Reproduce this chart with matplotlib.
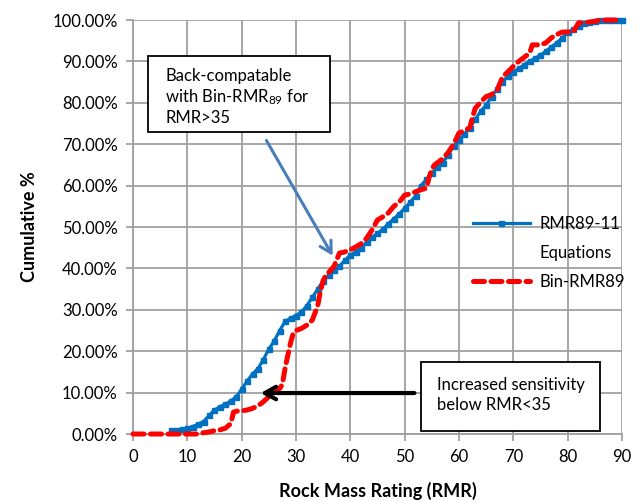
import matplotlib
matplotlib.use("Agg")
import matplotlib.pyplot as plt
from matplotlib.patches import Rectangle
from matplotlib.lines import Line2D
from matplotlib.ticker import FuncFormatter

plt.rcParams['font.family'] = ['Lato', 'DejaVu Sans']
plt.rcParams['mathtext.fontset'] = 'custom'
plt.rcParams['mathtext.rm'] = 'Lato'
plt.rcParams['mathtext.it'] = 'Lato'

# ---- data ----
blue_x = [7, 8, 9, 10, 11, 12, 13, 14, 15, 16, 17, 18, 19, 20, 21, 22, 23, 24, 25,
          26, 27, 28, 29, 30, 31, 32, 33, 34, 35, 36, 37, 38, 39, 40, 41, 42, 43, 44,
          45, 46, 47, 48, 49, 50, 51, 52, 53, 54, 55, 56, 57, 58, 59, 60, 61, 62, 63,
          64, 65, 66, 67, 68, 69, 70, 71, 72, 73, 74, 75, 76, 77, 78, 79, 80, 81, 82,
          83, 84, 85, 86, 87, 88, 89, 90]
blue_y = [1.0, 1.0, 1.2, 1.4, 1.8, 2.4, 3.0, 4.5, 5.8, 6.6, 7.2, 8.0, 9.0, 10.8, 12.8,
          14.5, 15.8, 18.0, 20.5, 22.5, 25.0, 27.2, 28.0, 28.6, 29.5, 31.0, 33.0, 35.0,
          37.0, 38.3, 39.5, 40.5, 42.0, 43.2, 44.0, 45.0, 46.3, 47.5, 48.5, 49.5, 50.8,
          52.0, 53.2, 54.5, 56.0, 57.5, 60.0, 61.5, 63.0, 64.5, 65.5, 67.5, 69.5, 71.0,
          72.5, 74.0, 76.0, 78.0, 79.5, 81.5, 83.3, 85.0, 86.5, 87.5, 88.3, 89.2, 90.0,
          90.8, 91.5, 92.5, 93.5, 94.5, 95.7, 97.0, 97.8, 98.5, 99.2, 99.6, 99.8, 100.0,
          100.0, 100.0, 100.0, 100.0]

red_x = [0, 1, 2, 3, 4, 5, 6, 7, 8, 9, 10, 11, 12, 13, 14, 15, 16, 17, 18, 18.5, 19,
         20, 21, 22, 23, 24, 25, 26, 27, 27.5, 28, 28.5, 29, 29.5, 30, 31, 32, 33, 34,
         34.5, 35, 35.5, 36, 37, 38, 39, 40, 41, 42, 43, 44, 45, 46, 47, 48, 49, 50,
         51, 52, 53, 54, 54.5, 55, 55.5, 56, 57, 58, 59, 60, 61, 62, 62.5, 63, 64, 65,
         66, 67, 68, 69, 70, 71, 72, 73, 73.5, 74, 75, 76, 77, 78, 79, 80, 81, 82, 83,
         84, 85, 86, 87, 88, 89, 90]
red_y = [0, 0, 0, 0, 0, 0, 0, 0, 0, 0, 0, 0, 0, 0.3, 0.5, 0.8, 1.0, 1.4, 2.5, 5.3, 5.5,
         5.6, 5.8, 6.2, 6.8, 7.8, 9.0, 10.3, 11.0, 12.0, 16.0, 19.0, 22.0, 24.4, 25.0,
         25.5, 26.3, 27.5, 31.0, 34.5, 37.0, 38.4, 39.0, 40.5, 43.7, 44.0, 44.5, 45.2,
         46.0, 47.3, 49.3, 51.7, 52.5, 53.4, 55.0, 56.0, 57.7, 58.0, 58.5, 59.0, 59.4,
         62.0, 64.0, 65.0, 65.5, 66.5, 68.0, 70.0, 72.7, 73.3, 74.0, 76.6, 78.7, 80.2,
         81.5, 82.0, 83.0, 86.2, 87.5, 88.8, 90.0, 91.0, 92.0, 94.0, 94.0, 94.0, 94.5,
         95.7, 96.5, 97.1, 97.1, 97.1, 99.3, 99.4, 99.5, 99.7, 100, 100, 100, 100, 100]

blue_label = ["RMR89-11", "Equations"]
red_label = "Bin-RMR89"
x_ticks = list(range(0, 91, 10))
y_ticks = list(range(0, 101, 10))

# ---- figure ----
fig = plt.figure(figsize=(6.44, 5.01), dpi=100)
ax = fig.add_axes([0.2065, 0.1337, 0.7593, 0.8263])

grid_c = '#a0a0a0'
ax.set_xlim(0, 90)
ax.set_ylim(0, 100)
ax.set_xticks(x_ticks)
ax.set_yticks(y_ticks)
ax.yaxis.set_major_formatter(FuncFormatter(lambda v, p: f"{v:.2f}%"))
ax.grid(True, color=grid_c, linewidth=1.3)
ax.set_axisbelow(True)
for s in ['top', 'right']:
    ax.spines[s].set_visible(False)
for s in ['left', 'bottom']:
    ax.spines[s].set_color(grid_c)
    ax.spines[s].set_linewidth(1.3)
ax.tick_params(axis='both', colors=grid_c, length=5, width=1.3, labelsize=12,
               labelcolor='black', direction='out')
ax.tick_params(axis='y', pad=6)
ax.tick_params(axis='x', pad=6)

bl, = ax.plot(blue_x, blue_y, color='#0070c0', linewidth=2.3, marker='s', markersize=3.6,
              zorder=3, clip_on=False)
rl, = ax.plot(red_x, red_y, color='#ff0000', linewidth=3.6, linestyle=(0, (2.2, 1.3)),
              dash_capstyle='round', solid_capstyle='round', zorder=4, clip_on=False)

ax.set_xlabel("Rock Mass Rating (RMR)", fontsize=13, fontweight='bold', labelpad=12)
ax.set_ylabel("Cumulative %", fontsize=13, fontweight='bold', labelpad=10)

blank = Line2D([], [], linestyle='none')
ax.legend([bl, blank, rl], [blue_label[0], blue_label[1], red_label],
          loc='upper left', bbox_to_anchor=(0.695, 0.527), frameon=False,
          fontsize=12, handlelength=3.4, labelspacing=0.78, handletextpad=0.6,
          borderpad=0, borderaxespad=0, numpoints=1)

# annotation boxes
ax.add_patch(Rectangle((2.76, 72.9), 33.5, 18.4, facecolor='white', edgecolor='black',
                       linewidth=1.3, zorder=6))
ax.text(5.9, 86.5, "Back-compatable", fontsize=12, va='center', zorder=7)
ax.text(5.9, 81.4, "with Bin-RMR$_{89}$ for", fontsize=12, va='center', zorder=7)
ax.text(5.9, 76.3, "RMR>35", fontsize=12, va='center', zorder=7)

ax.add_patch(Rectangle((53.0, 0.7), 33.0, 16.7, facecolor='white', edgecolor='black',
                       linewidth=1.3, zorder=6))
ax.text(56.0, 11.8, "Increased sensitivity", fontsize=12, va='center', zorder=7)
ax.text(56.0, 7.0, "below RMR<35", fontsize=12, va='center', zorder=7)

ax.annotate("", xy=(37.0, 42.5), xytext=(24.3, 71.5),
            arrowprops=dict(arrowstyle='->,head_length=0.8,head_width=0.45',
                            color='#4a7ebb', linewidth=2.2), zorder=8)
ax.annotate("", xy=(23.0, 9.9), xytext=(52.3, 9.9),
            arrowprops=dict(arrowstyle='->,head_length=0.8,head_width=0.45',
                            color='black', linewidth=3), zorder=8)

fig.savefig("out.png", dpi=100)
